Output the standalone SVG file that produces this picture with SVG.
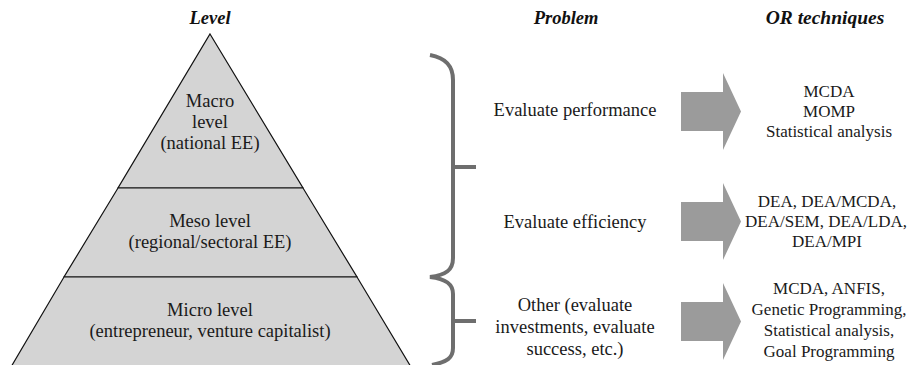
<svg xmlns="http://www.w3.org/2000/svg" width="909" height="365" viewBox="0 0 909 365">
<style>
text{font-family:'Liberation Serif','DejaVu Serif',serif}
.t{font-size:18.5px;fill:#1a1a1a;text-anchor:middle}
.h{font-size:18.5px;font-weight:bold;font-style:italic;fill:#111;text-anchor:middle}
.r{font-size:17px;fill:#1a1a1a;text-anchor:middle}
.arr{fill:#9b9b9b}
.br{fill:none;stroke:#6e6e6e;stroke-width:4;stroke-linecap:butt}
.lv{fill:#d4d4d4;stroke:#111;stroke-width:1.2}
</style>
<rect width="909" height="365" fill="#fff"/>
<g id="headers">
<text class="h" x="210" y="24">Level</text>
<text class="h" x="566" y="24">Problem</text>
<text class="h" x="825" y="24" style="font-size:19.5px">OR techniques</text>
</g>
<g id="pyramid">
<g id="macro">
<polygon class="lv" points="210,34 303,188 118,188"/>
<text class="t" x="210" y="107">Macro</text>
<text class="t" x="210" y="128">level</text>
<text class="t" x="210" y="149">(national EE)</text>
</g>
<g id="meso">
<polygon class="lv" points="118,188 303,188 357,277 64,277"/>
<text class="t" x="210" y="227">Meso level</text>
<text class="t" x="210" y="248">(regional/sectoral EE)</text>
</g>
<g id="micro">
<polygon class="lv" points="64,277 357,277 411,367 11,367"/>
<text class="t" x="210" y="316">Micro level</text>
<text class="t" x="210" y="337">(entrepreneur, venture capitalist)</text>
</g>
</g>
<g id="connectors">
<path class="br" d="M430,55 C446,58 453,66 453,80 L453,258 C453,270 446,275 430,277 C446,279 453,284 453,294 L453,348 C453,358 447,362 432,365"/>
<path class="br" d="M453,167 H476"/>
<path class="br" d="M453,321 H476"/>
<polygon class="arr" points="681,92 723,92 723,73 741,111.5 723,150 723,131 681,131"/>
<polygon class="arr" points="681,202 723,202 723,183 741,221.5 723,260 723,241 681,241"/>
<polygon class="arr" points="681,302 723,302 723,283 741,321.5 723,360 723,341 681,341"/>
</g>
<g id="problem-performance">
<text class="t" x="575" y="116">Evaluate performance</text>
</g>
<g id="problem-efficiency">
<text class="t" x="575" y="228">Evaluate efficiency</text>
</g>
<g id="problem-other">
<text class="t" x="575" y="311">Other (evaluate</text>
<text class="t" x="575" y="333">investments, evaluate</text>
<text class="t" x="575" y="355">success, etc.)</text>
</g>
<g id="tech-performance">
<text class="r" x="829" y="97">MCDA</text>
<text class="r" x="829" y="117">MOMP</text>
<text class="r" x="829" y="137">Statistical analysis</text>
</g>
<g id="tech-efficiency">
<text class="r" x="827" y="207">DEA, DEA/MCDA,</text>
<text class="r" x="826" y="227">DEA/SEM, DEA/LDA,</text>
<text class="r" x="827" y="247">DEA/MPI</text>
</g>
<g id="tech-other">
<text class="r" x="829" y="294">MCDA, ANFIS,</text>
<text class="r" x="829" y="315">Genetic Programming,</text>
<text class="r" x="829" y="336">Statistical analysis,</text>
<text class="r" x="829" y="357">Goal Programming</text>
</g>
</svg>
